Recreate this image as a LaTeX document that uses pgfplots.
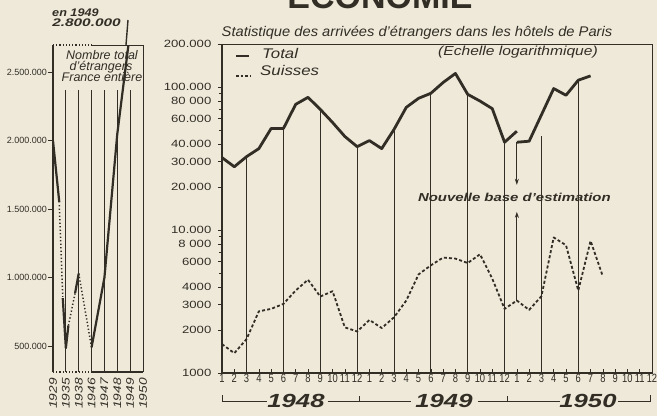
\documentclass[border=0pt]{standalone}
\usepackage{pgfplots}
\pgfplotsset{compat=1.18}
\usepackage{fontspec}
\setmainfont{Liberation Sans}
\usetikzlibrary{arrows.meta}
\definecolor{paper}{RGB}{238,233,217}
\definecolor{ink}{RGB}{50,46,38}
\newcommand\wx[2]{\scalebox{#1}[1]{#2}}
\begin{document}
\begin{tikzpicture}[x=1pt,y=1pt]
\fill[paper] (0,0) rectangle (657,416);
% heading cut by the top edge
\node[anchor=base, font=\fontsize{34}{34}\selectfont\bfseries, text=ink] at (380,407) {ÉCONOMIE};

% ---------------- right panel ----------------
\begin{axis}[
  at={(222pt,43pt)}, anchor=south west, scale only axis,
  width=430pt, height=329pt,
  ymode=log, ymin=1000, ymax=200000, xmin=0, xmax=35,
  axis line style={ink, line width=0.8pt},
  tick pos=left, tick align=inside,
  major tick length=4pt, minor tick length=3pt,
  tick style={ink, line width=0.7pt},
  major y tick style={xshift=-4pt},
  minor y tick style={xshift=-3pt},
  xtick={0,...,35},
  xticklabels={1,2,3,4,5,6,7,8,9,10,11,12,1,2,3,4,5,6,7,8,9,10,11,12,1,2,3,4,5,6,7,8,9,10,11,12},
  xticklabel style={font=\fontsize{12}{12}\selectfont, text=ink, inner sep=1pt, xscale=0.78},
  ytick={1000,2000,3000,4000,6000,8000,10000,20000,30000,40000,60000,80000,100000,200000},
  yticklabels={1000,2000,3000,4000,6000,8 000,10.000,20.000,30.000,40.000,60.000,80 000,100.000,200.000},
  minor ytick={5000,7000,9000,50000,70000,90000},
  yticklabel style={font=\fontsize{10.5}{10.5}\selectfont, text=ink, xscale=1.25, xshift=-5pt},
]
% vertical guide lines
\addplot[ink, line width=0.8pt] coordinates {(2,1000)(2,32600)};
\addplot[ink, line width=0.8pt] coordinates {(5,1000)(5,51300)};
\addplot[ink, line width=0.8pt] coordinates {(8,1000)(8,69800)};
\addplot[ink, line width=0.8pt] coordinates {(11,1000)(11,38300)};
\addplot[ink, line width=0.8pt] coordinates {(14,1000)(14,50500)};
\addplot[ink, line width=0.8pt] coordinates {(17,1000)(17,90400)};
\addplot[ink, line width=0.8pt] coordinates {(20,1000)(20,88900)};
\addplot[ink, line width=0.8pt] coordinates {(23,1000)(23,41100)};
\addplot[ink, line width=0.8pt] coordinates {(26,1000)(26,45100)};
\addplot[ink, line width=0.8pt] coordinates {(29,1000)(29,111600)};
% Total (old base)
\addplot[ink, line width=2.8pt, line join=round] coordinates {
(0,32100)(1,27700)(2,32600)(3,37100)(4,51300)(5,51300)(6,75700)(7,84700)
(8,69800)(9,56500)(10,45100)(11,38300)(12,42200)(13,37100)(14,50500)
(15,72100)(16,83400)(17,90400)(18,107600)(19,124500)(20,88900)(21,79800)
(22,70600)(23,41100)(24,49100)};
% Total (new base)
\addplot[ink, line width=2.8pt, line join=round] coordinates {
(24,41100)(25,41800)(27,97600)(28,87600)(29,111600)(30,119700)};
% Suisses
\addplot[ink, line width=1.8pt, dash pattern=on 3pt off 2.2pt, line join=round] coordinates {
(0,1592)(1,1376)(2,1727)(3,2700)(4,2808)(5,3044)(6,3776)(7,4491)(8,3425)
(9,3734)(10,2084)(11,1953)(12,2349)(13,2063)(14,2450)(15,3211)(16,4894)
(17,5662)(18,6416)(19,6311)(20,5876)(21,6768)(22,4565)(23,2808)(24,3211)
(25,2762)(26,3443)(27,8870)(28,7830)(29,3776)(30,8395)(31,4737)};
% new base arrows
\draw[ink, line width=0.9pt, -{Stealth[length=6pt,width=4pt]}] (axis cs:24,41100) -- (axis cs:24,20700);
\draw[ink, line width=0.9pt, -{Stealth[length=6pt,width=4pt]}] (axis cs:24,3211) -- (axis cs:24,13400);
\node[font=\fontsize{11.5}{11.5}\selectfont\itshape\bfseries, text=ink, xscale=1.3] at (axis cs:23.8,16800) {Nouvelle base d'estimation};
\end{axis}
\draw[ink, line width=1.8pt] (222,372) -- (222,43) -- (652,43);

% titles / legend
\node[anchor=base west, font=\fontsize{14}{14}\selectfont\itshape, text=ink, xscale=1.05] at (218,379) {Statistique des arrivées d'étrangers dans les hôtels de Paris};
\node[anchor=base, font=\fontsize{13}{13}\selectfont\itshape, text=ink, xscale=1.2] at (518,360) {(Echelle logarithmique)};
\draw[ink, line width=2.5pt] (236,360) -- (249,360);
\node[anchor=base west, font=\fontsize{14}{14}\selectfont\itshape, text=ink, xscale=1.2] at (258,357) {Total};
\draw[ink, line width=1.5pt, dash pattern=on 2.5pt off 2pt] (236,340) -- (250,340);
\node[anchor=base west, font=\fontsize{14}{14}\selectfont\itshape, text=ink, xscale=1.2] at (256,340) {Suisses};

% year brackets
\draw[ink, line width=1pt] (222,21) -- (222,15) -- (267,15);
\draw[ink, line width=1pt] (328,15) -- (411,15);
\draw[ink, line width=1pt] (359,15) -- (359,20);
\draw[ink, line width=1pt] (478,15) -- (560,15);
\draw[ink, line width=1pt] (507,15) -- (507,20);
\draw[ink, line width=1pt] (618,15) -- (650,15) -- (650,21);
\node[font=\fontsize{19}{19}\selectfont\itshape\bfseries, text=ink, xscale=1.35] at (296,15) {1948};
\node[font=\fontsize{19}{19}\selectfont\itshape\bfseries, text=ink, xscale=1.35] at (444,15) {1949};
\node[font=\fontsize{19}{19}\selectfont\itshape\bfseries, text=ink, xscale=1.35] at (588,15) {1950};

% ---------------- left panel ----------------
\begin{axis}[
  at={(53pt,44pt)}, anchor=south west, scale only axis,
  width=90pt, height=327pt,
  xmin=0, xmax=7, ymin=310000, ymax=2700000,
  axis line style={draw=none},
  tick pos=left, tick align=outside,
  major tick length=5pt,
  tick style={ink, line width=0.8pt},
  xtick={0,...,7},
  xticklabels={\wx{1.25}{1929},\wx{1.25}{1935},\wx{1.25}{1938},\wx{1.25}{1946},\wx{1.25}{1947},\wx{1.25}{1948},\wx{1.25}{1949},\wx{1.25}{1950}},
  xtick style={draw=none},
  xticklabel style={rotate=90, anchor=east, font=\fontsize{11}{11}\selectfont\itshape, text=ink, inner sep=1pt},
  ytick={500000,1000000,1500000,2000000,2500000},
  yticklabels={500.000,1.000.000,1.500.000,2.000.000,2.500.000},
  scaled y ticks=false,
  yticklabel style={font=\fontsize{9}{9}\selectfont, text=ink, inner sep=1pt},
]
\addplot[ink, line width=0.8pt] coordinates {(1,310000)(1,2371000)};
\addplot[ink, line width=0.8pt] coordinates {(2,310000)(2,2371000)};
\addplot[ink, line width=0.8pt] coordinates {(3,310000)(3,2371000)};
\addplot[ink, line width=0.8pt] coordinates {(4,310000)(4,2371000)};
\addplot[ink, line width=0.8pt] coordinates {(5,310000)(5,2371000)};
\addplot[ink, line width=0.8pt] coordinates {(6,310000)(6,2371000)};
% total foreigners, whole of France
\addplot[ink, line width=2.2pt] coordinates {(0,2000000)(0.49,1550000)};
\addplot[ink, line width=1.5pt, dash pattern=on 1.3pt off 2.2pt] coordinates {(0.49,1530000)(0.76,860000)};
\addplot[ink, line width=2.2pt, line join=round] coordinates {(0.76,850000)(1,485000)(1.2,650000)};
\addplot[ink, line width=1.5pt, dash pattern=on 1.3pt off 2.2pt] coordinates {(1.2,650000)(1.72,887000)};
\addplot[ink, line width=2.2pt] coordinates {(1.72,887000)(2,1030000)};
\addplot[ink, line width=1.5pt, dash pattern=on 1.3pt off 2.2pt] coordinates {(2,1030000)(3,490000)};
\addplot[ink, line width=2.2pt, line join=round] coordinates {(3,490000)(4,1000000)(5,2050000)(6,2800000)};
\end{axis}
% left frame
\draw[ink, line width=1.8pt] (53,44) -- (53,371);
\draw[ink, line width=1.3pt, dash pattern=on 1.2pt off 2pt] (53,44) -- (92,44);
\draw[ink, line width=1.1pt, dash pattern=on 1.2pt off 2pt] (53,371) -- (92,371);
\draw[ink, line width=1.6pt] (92,44) -- (143,44);
\draw[ink, line width=0.9pt] (92,371) -- (143,371);
\draw[ink, line width=0.9pt] (143,44) -- (143,371);
\draw[ink, line width=1.4pt] (126,371) -- (128,396);
\node[anchor=base, font=\fontsize{12.5}{12.5}\selectfont\itshape, text=ink] at (102,356) {Nombre total};
\node[anchor=base, font=\fontsize{12.5}{12.5}\selectfont\itshape, text=ink] at (101,345) {d'étrangers};
\node[anchor=base, font=\fontsize{12.5}{12.5}\selectfont\itshape, text=ink] at (102,334) {France entière};
\node[anchor=base west, font=\fontsize{11}{11}\selectfont\itshape\bfseries, text=ink, xscale=1.15, inner sep=0pt] at (52,399) {en 1949};
\node[anchor=base west, font=\fontsize{11}{11}\selectfont\itshape\bfseries, text=ink, xscale=1.4, inner sep=0pt] at (52,389) {2.800.000};

\pgfresetboundingbox
\useasboundingbox (0,0) rectangle (657,416);
\end{tikzpicture}
\end{document}
